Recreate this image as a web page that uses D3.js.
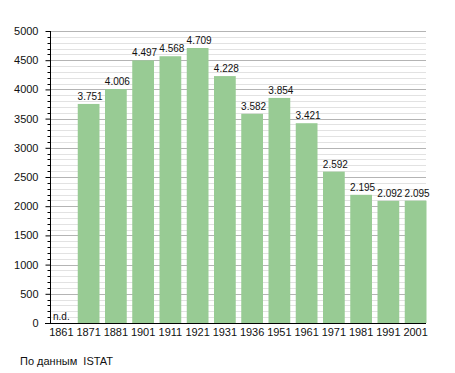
<!DOCTYPE html>
<html>
<head>
<meta charset="utf-8">
<script src="https://cdn.jsdelivr.net/npm/d3@7"></script>
<style>
  body { margin: 0; background: #fff; }
  text { font-family: "Liberation Sans", Arial, sans-serif; }
</style>
</head>
<body>
<div id="chart"></div>
<script>
// data
let years = ["1861", "1871", "1881", "1901", "1911", "1921", "1931", "1936", "1951", "1961", "1971", "1981", "1991", "2001"];
let population = [null, 3751, 4006, 4497, 4568, 4709, 4228, 3582, 3854, 3421, 2592, 2195, 2092, 2095];
let yTicks = [0, 500, 1000, 1500, 2000, 2500, 3000, 3500, 4000, 4500, 5000];

let svgWidth = 455;
let svgHeight = 373;
let plotLeft = 50, plotRight = 426, plotTop = 31, plotBottom = 323;

let svg = d3.select("#chart")
  .append("svg")
  .attr("width", svgWidth)
  .attr("height", svgHeight);

let xScale = d3.scaleBand()
  .domain(years)
  .range([plotLeft, plotLeft + 14 * 27.25])
  .padding(0);

let yScale = d3.scaleLinear()
  .domain([0, 5000])
  .range([plotBottom, plotTop]);

// minor grid every 100
let minor = d3.range(100, 5001, 100).filter(v => v % 500 != 0);
svg.append("g").selectAll("line")
  .data(minor)
  .enter().append("line")
  .attr("x1", plotLeft).attr("x2", plotRight)
  .attr("y1", d => Math.round(yScale(d)) + 0.5)
  .attr("y2", d => Math.round(yScale(d)) + 0.5)
  .attr("stroke", "#e2e2e2");
svg.append("g").selectAll("line")
  .data(yTicks.filter(d => d > 0))
  .enter().append("line")
  .attr("x1", plotLeft).attr("x2", plotRight)
  .attr("y1", d => Math.round(yScale(d)) + 0.5)
  .attr("y2", d => Math.round(yScale(d)) + 0.5)
  .attr("stroke", "#b4b4b4");

// bars
let bw = xScale.bandwidth() - 5.5;
svg.append("g").selectAll("rect")
  .data(years.filter((y, i) => population[i] != null))
  .enter().append("rect")
  .attr("x", d => xScale(d) + 0.5)
  .attr("y", d => yScale(population[years.indexOf(d)]))
  .attr("width", bw)
  .attr("height", d => plotBottom - yScale(population[years.indexOf(d)]))
  .attr("fill", "#98cb94");

// value labels
svg.append("g").selectAll("text")
  .data(years)
  .enter().append("text")
  .attr("x", d => population[years.indexOf(d)] == null ? xScale(d) + 3 : xScale(d) + 2 + bw / 2)
  .attr("y", d => population[years.indexOf(d)] == null ? plotBottom - 3 : yScale(population[years.indexOf(d)]) - 4)
  .attr("text-anchor", d => population[years.indexOf(d)] == null ? "start" : "middle")
  .style("font-size", "10px")
  .attr("fill", "#111")
  .text(d => {
    let v = population[years.indexOf(d)];
    return v == null ? "n.d." : d3.format(",")(v).replace(",", ".");
  });

// y axis
let leftAxis = d3.axisLeft(yScale).tickValues(yTicks).tickSize(5).tickFormat(d3.format("d"));
let yAxis = svg.append("g")
  .attr("transform", `translate(${plotLeft + 0.5}, 0)`)
  .call(leftAxis);
yAxis.select(".domain").remove();
yAxis.selectAll("text").style("font-size", "11px").attr("x", -12).attr("fill", "#111");
yAxis.selectAll("line").attr("stroke", "#000");
svg.append("g").selectAll("line")
  .data(minor)
  .enter().append("line")
  .attr("x1", plotLeft - 2.5).attr("x2", plotLeft)
  .attr("y1", d => Math.round(yScale(d)) + 0.5)
  .attr("y2", d => Math.round(yScale(d)) + 0.5)
  .attr("stroke", "#000");
svg.append("line")
  .attr("x1", plotLeft + 0.5).attr("x2", plotLeft + 0.5)
  .attr("y1", plotTop).attr("y2", plotBottom + 1)
  .attr("stroke", "#000");

// x axis
svg.append("line")
  .attr("x1", plotLeft - 5).attr("x2", plotRight)
  .attr("y1", plotBottom + 0.5).attr("y2", plotBottom + 0.5)
  .attr("stroke", "#000");
svg.append("g").selectAll("text")
  .data(years)
  .enter().append("text")
  .attr("x", d => xScale(d) + 0.5 + bw / 2)
  .attr("y", plotBottom + 13)
  .attr("text-anchor", "middle")
  .style("font-size", "11px")
  .attr("fill", "#111")
  .text(d => d);

// source
svg.append("text")
  .attr("x", 20)
  .attr("y", 365)
  .style("font-size", "11px")
  .attr("fill", "#111")
  .attr("xml:space", "preserve")
  .style("white-space", "pre")
  .text("По данным  ISTAT");
</script>
</body>
</html>
